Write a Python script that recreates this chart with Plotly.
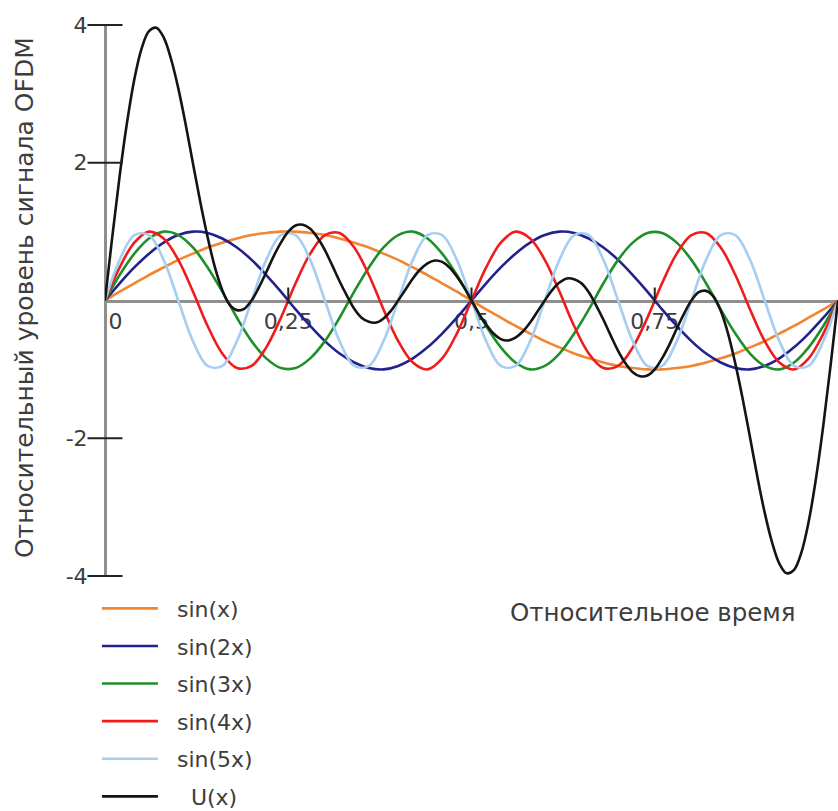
import plotly.graph_objects as go

# ---- data ----
x_time = [0.00, 0.02, 0.04, 0.06, 0.08, 0.10, 0.12, 0.14, 0.16, 0.18,
          0.20, 0.22, 0.24, 0.26, 0.28, 0.30, 0.32, 0.34, 0.36, 0.38,
          0.40, 0.42, 0.44, 0.46, 0.48, 0.50, 0.52, 0.54, 0.56, 0.58,
          0.60, 0.62, 0.64, 0.66, 0.68, 0.70, 0.72, 0.74, 0.76, 0.78,
          0.80, 0.82, 0.84, 0.86, 0.88, 0.90, 0.92, 0.94, 0.96, 0.98, 1.00]

x_time_fine = [0.00, 0.01, 0.02, 0.03, 0.04, 0.05, 0.06, 0.07, 0.08, 0.09,
               0.10, 0.11, 0.12, 0.13, 0.14, 0.15, 0.16, 0.17, 0.18, 0.19,
               0.20, 0.21, 0.22, 0.23, 0.24, 0.25, 0.26, 0.27, 0.28, 0.29,
               0.30, 0.31, 0.32, 0.33, 0.34, 0.35, 0.36, 0.37, 0.38, 0.39,
               0.40, 0.41, 0.42, 0.43, 0.44, 0.45, 0.46, 0.47, 0.48, 0.49,
               0.50, 0.51, 0.52, 0.53, 0.54, 0.55, 0.56, 0.57, 0.58, 0.59,
               0.60, 0.61, 0.62, 0.63, 0.64, 0.65, 0.66, 0.67, 0.68, 0.69,
               0.70, 0.71, 0.72, 0.73, 0.74, 0.75, 0.76, 0.77, 0.78, 0.79,
               0.80, 0.81, 0.82, 0.83, 0.84, 0.85, 0.86, 0.87, 0.88, 0.89,
               0.90, 0.91, 0.92, 0.93, 0.94, 0.95, 0.96, 0.97, 0.98, 0.99, 1.00]

sin_1 = [0, 0.13, 0.25, 0.37, 0.48, 0.59, 0.68, 0.77, 0.84, 0.90,
         0.95, 0.98, 1.00, 1.00, 0.98, 0.95, 0.90, 0.84, 0.77, 0.68,
         0.59, 0.48, 0.37, 0.25, 0.13, 0, -0.13, -0.25, -0.37, -0.48,
         -0.59, -0.68, -0.77, -0.84, -0.90, -0.95, -0.98, -1.00, -1.00, -0.98,
         -0.95, -0.90, -0.84, -0.77, -0.68, -0.59, -0.48, -0.37, -0.25, -0.13, 0]

sin_2 = [0, 0.25, 0.48, 0.68, 0.84, 0.95, 1.00, 0.98, 0.90, 0.77,
         0.59, 0.37, 0.13, -0.13, -0.37, -0.59, -0.77, -0.90, -0.98, -1.00,
         -0.95, -0.84, -0.68, -0.48, -0.25, 0, 0.25, 0.48, 0.68, 0.84,
         0.95, 1.00, 0.98, 0.90, 0.77, 0.59, 0.37, 0.13, -0.13, -0.37,
         -0.59, -0.77, -0.90, -0.98, -1.00, -0.95, -0.84, -0.68, -0.48, -0.25, 0]

sin_3 = [0, 0.37, 0.68, 0.90, 1.00, 0.95, 0.77, 0.48, 0.13, -0.25,
         -0.59, -0.84, -0.98, -0.98, -0.84, -0.59, -0.25, 0.13, 0.48, 0.77,
         0.95, 1.00, 0.90, 0.68, 0.37, 0, -0.37, -0.68, -0.90, -1.00,
         -0.95, -0.77, -0.48, -0.13, 0.25, 0.59, 0.84, 0.98, 0.98, 0.84,
         0.59, 0.25, -0.13, -0.48, -0.77, -0.95, -1.00, -0.90, -0.68, -0.37, 0]

sin_4 = [0, 0.48, 0.84, 1.00, 0.90, 0.59, 0.13, -0.37, -0.77, -0.98,
         -0.95, -0.68, -0.25, 0.25, 0.68, 0.95, 0.98, 0.77, 0.37, -0.13,
         -0.59, -0.90, -1.00, -0.84, -0.48, 0, 0.48, 0.84, 1.00, 0.90,
         0.59, 0.13, -0.37, -0.77, -0.98, -0.95, -0.68, -0.25, 0.25, 0.68,
         0.95, 0.98, 0.77, 0.37, -0.13, -0.59, -0.90, -1.00, -0.84, -0.48, 0]

sin_5 = [0, 0.59, 0.95, 0.95, 0.59, 0, -0.59, -0.95, -0.95, -0.59,
         0, 0.59, 0.95, 0.95, 0.59, 0, -0.59, -0.95, -0.95, -0.59,
         0, 0.59, 0.95, 0.95, 0.59, 0, -0.59, -0.95, -0.95, -0.59,
         0, 0.59, 0.95, 0.95, 0.59, 0, -0.59, -0.95, -0.95, -0.59,
         0, 0.59, 0.95, 0.95, 0.59, 0, -0.59, -0.95, -0.95, -0.59, 0]

u_sum = [0, 0.93, 1.81, 2.58, 3.21, 3.66, 3.91, 3.96, 3.82, 3.51,
         3.08, 2.56, 1.99, 1.43, 0.92, 0.48, 0.15, -0.06, -0.14, -0.12,
         0, 0.19, 0.41, 0.64, 0.84, 1.00, 1.09, 1.10, 1.04, 0.91,
         0.73, 0.51, 0.28, 0.07, -0.12, -0.25, -0.31, -0.32, -0.26, -0.15,
         0, 0.16, 0.32, 0.45, 0.54, 0.58, 0.56, 0.48, 0.35, 0.19,
         0, -0.19, -0.35, -0.48, -0.56, -0.58, -0.54, -0.45, -0.32, -0.16,
         0, 0.15, 0.26, 0.32, 0.31, 0.25, 0.12, -0.07, -0.28, -0.51,
         -0.73, -0.91, -1.04, -1.10, -1.09, -1.00, -0.84, -0.64, -0.41, -0.19,
         0, 0.12, 0.14, 0.06, -0.15, -0.48, -0.92, -1.43, -1.99, -2.56,
         -3.08, -3.51, -3.82, -3.96, -3.91, -3.66, -3.21, -2.58, -1.81, -0.93, 0]

NB = "\u00a0"
series_names = [NB * 2 + "sin(x)", NB * 2 + "sin(2x)", NB * 2 + "sin(3x)",
                NB * 2 + "sin(4x)", NB * 2 + "sin(5x)", NB * 4 + "U(x)"]
series_x = [x_time, x_time, x_time, x_time, x_time, x_time_fine]
series_values = [sin_1, sin_2, sin_3, sin_4, sin_5, u_sum]
series_colors = ["#f3852f", "#22228f", "#1f8f2a", "#f01c1c", "#a6cdf2", "#141414"]

x_tick_vals = [0, 0.25, 0.5, 0.75]
x_tick_text = [NB * 3 + "0", "0,25", "0,5", "0,75"]
y_tick_vals = [4, 2, -2, -4]
y_tick_text = ["4", "2", "-2", "-4"]

x_title = "Относительное время"
y_title = "Относительный уровень сигнала OFDM"

FONT = "DejaVu Sans"
TXT = "#3d3d3d"
AXIS_GRAY = "#8f8f8f"

fig = go.Figure()
for name, xs, ys, col in zip(series_names, series_x, series_values, series_colors):
    fig.add_trace(go.Scatter(
        x=xs, y=ys, mode="lines", name=name, legendgroup=name,
        line=dict(color=col, width=2.6, shape="spline", smoothing=1.0),
        hoverinfo="skip",
    ))

# y-axis tick marks crossing the axis line
fig.add_trace(go.Scatter(
    x=[x_tick_vals[0]] * len(y_tick_vals), y=y_tick_vals, mode="markers",
    marker=dict(symbol="line-ew", size=25, line=dict(width=2, color="#222222")),
    cliponaxis=False, showlegend=False, hoverinfo="skip",
))

# x-axis tick marks (short, mostly above the axis line)
for v in x_tick_vals[1:]:
    fig.add_shape(type="line", xref="x", yref="paper",
                  x0=v, x1=v, ysizemode="pixel", yanchor=0.5, y0=-3, y1=13,
                  line=dict(color="#222222", width=2))

fig.update_layout(
    width=838, height=811,
    margin=dict(l=105, r=0, t=25, b=235, autoexpand=False),
    paper_bgcolor="white", plot_bgcolor="white",
    font=dict(family=FONT, size=22, color=TXT),
    showlegend=True,
    legend=dict(
        x=-0.011, y=-0.021, xanchor="left", yanchor="top",
        font=dict(family=FONT, size=22, color=TXT),
        itemwidth=56, tracegroupgap=6.0, bgcolor="rgba(0,0,0,0)",
    ),
    xaxis=dict(
        range=[0, 1], anchor="free", position=0.5,
        showline=True, linecolor=AXIS_GRAY, linewidth=3,
        showgrid=False, zeroline=False, ticks="",
        tickvals=x_tick_vals, ticktext=x_tick_text,
        tickfont=dict(family=FONT, size=22, color=TXT),
        layer="below traces",
    ),
    yaxis=dict(
        range=[-4, 4], anchor="free", position=0,
        showline=True, linecolor=AXIS_GRAY, linewidth=3,
        showgrid=False, zeroline=False, ticks="",
        tickvals=y_tick_vals, ticktext=y_tick_text,
        tickfont=dict(family=FONT, size=22, color=TXT),
        ticklabelstandoff=12,
        layer="below traces",
    ),
    annotations=[
        dict(text=x_title, xref="paper", yref="paper", x=0.7476, y=-0.067,
             xanchor="center", yanchor="middle", showarrow=False,
             font=dict(family=FONT, size=24.5, color=TXT)),
        dict(text=y_title, xref="paper", yref="paper", x=-0.11, y=0.505,
             xanchor="center", yanchor="middle", showarrow=False, textangle=-90,
             font=dict(family=FONT, size=25, color=TXT)),
    ],
)

fig.write_html("out.html")
